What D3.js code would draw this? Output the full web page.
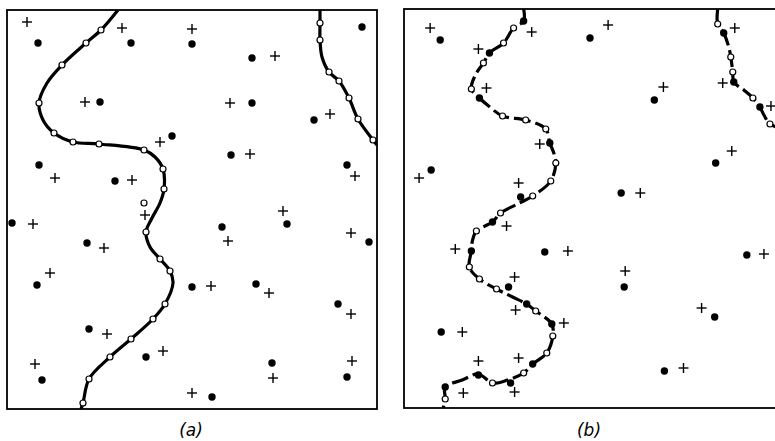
<!DOCTYPE html>
<html>
<head>
<meta charset="utf-8">
<script src="https://d3js.org/d3.v7.min.js"></script>
<style>
  body { margin: 0; background: #fff; }
  svg { display: block; }
</style>
</head>
<body>
<svg id="chart" width="775" height="441"></svg>
<script>
// panel labels
var labels = ["(a)", "(b)"];

// panel (a) - field coordinates, x right, y up
var plusA = [[20,387],[115,381],[185,380],[268,353],[78,307],[223,306],[323,295],[153,267],[243,255],
  [48,231],[125,229],[348,233],[276,198],[138,194],[26,185],[97,161],[221,168],[344,176],[43,136],
  [204,123],[262,116],[344,95],[100,75],[156,58],[28,45],[266,31],[345,48],[185,16]];
var dotA = [[31,366],[124,366],[185,365],[245,351],[355,382],[93,307],[245,306],[307,289],[165,273],
  [224,254],[32,244],[108,228],[340,244],[5,186],[80,166],[215,182],[280,185],[362,167],[30,124],
  [185,122],[249,125],[331,105],[82,80],[139,52],[265,46],[340,32],[35,29],[205,12]];
var ringA = [[94,379],[79,366],[55,344],[32,306],[47,276],[66,267],[92,265],[137,259],[156,240],
  [157,220],[139,177],[153,150],[163,138],[158,105],[146,90],[124,70],[103,52],[82,30],[76,6],[137,206],
  [313,386],[313,369],[322,337],[332,328],[342,311],[351,290],[366,269]];
var lineA1 = [[111,399],[94,379],[79,366],[55,344],[40,326],[32,306],[36,289],[47,276],[66,267],[92,265],
  [137,259],[148,252],[156,240],[157,220],[153,206],[145,191],[139,177],[143,162],[153,150],[163,138],
  [166,126],[158,105],[146,90],[124,70],[103,52],[82,30],[76,6],[74,0]];
var lineA2 = [[313,399],[313,386],[313,369],[315,352],[322,337],[332,328],[342,311],[351,290],[366,269],[370,264]];

// panel (b)
var plusB = [[26,380],[127,376],[203,383],[74,359],[329,380],[82,320],[258,321],[317,325],[365,302],
  [135,264],[326,257],[15,230],[114,225],[235,215],[102,182],[51,159],[163,157],[358,154],[220,137],
  [110,131],[111,98],[296,100],[159,85],[58,76],[74,47],[114,50],[278,40],[59,15],[110,16]];
var dotB = [[36,368],[185,370],[249,308],[310,245],[27,238],[216,215],[140,156],[341,153],[104,121],
  [219,121],[37,76],[309,91],[259,37],[106,25],
  [119,387],[85,355],[75,310],[145,265],[116,211],[88,186],[67,157],[122,104],[147,84],[128,44],
  [74,33],[41,21],[318,375],[328,326],[354,301]];
var ringB = [[109,380],[99,365],[79,345],[67,319],[98,292],[121,288],[141,279],[151,245],[146,227],
  [128,212],[96,195],[72,177],[65,141],[75,129],[92,119],[131,97],[148,72],[142,55],[119,35],[88,25],[41,9],
  [312,384],[325,351],[327,336],[347,310],[364,284]];
var lineB1 = [[119,399],[119,387],[109,380],[99,365],[85,355],[79,345],[71,333],[67,319],[75,310],[83,303],
  [98,292],[121,288],[141,279],[145,265],[149,255],[151,245],[146,227],[128,212],[113,204],[96,195],
  [88,186],[72,177],[68,167],[67,157],[65,141],[75,129],[92,119],[108,111],[122,104],[131,97],[147,84],
  [148,72],[142,55],[128,44],[119,35],[103,28],[88,25],[74,34],[58,28],[41,21],[41,9],[39,0]];
var lineB2 = [[312,399],[312,384],[318,375],[323,361],[325,351],[327,336],[328,326],[338,318],[347,310],
  [354,301],[358,293],[364,284],[374,280]];

var panels = [
  {label: labels[0], plus: plusA, dot: dotA, ring: ringA, lines: [lineA1, lineA2], xr: [7, 377], yr: [409, 10], dash: null},
  {label: labels[1], plus: plusB, dot: dotB, ring: ringB, lines: [lineB1, lineB2], xr: [404, 776], yr: [408, 9], dash: "17,5"}
];

var svg = d3.select("#chart");

panels.forEach(function(p, i) {
  var x = d3.scaleLinear().domain([0, 370]).range(p.xr);
  var y = d3.scaleLinear().domain([0, 399]).range(p.yr);
  var g = svg.append("g");

  g.append("clipPath").attr("id", "clip" + i)
    .append("rect")
    .attr("x", p.xr[0]).attr("y", p.yr[1])
    .attr("width", p.xr[1] - p.xr[0]).attr("height", p.yr[0] - p.yr[1]);

  var inner = g.append("g").attr("clip-path", "url(#clip" + i + ")");

  var line = d3.line()
    .x(function(d) { return x(d[0]); })
    .y(function(d) { return y(d[1]); })
    .curve(d3.curveCatmullRom.alpha(0.5));

  inner.selectAll("path.curve")
    .data(p.lines)
    .enter().append("path")
    .attr("class", "curve")
    .attr("d", line)
    .attr("fill", "none")
    .attr("stroke", "#000")
    .attr("stroke-width", 3.2)
    .attr("stroke-dasharray", p.dash);

  inner.selectAll("circle.dot")
    .data(p.dot)
    .enter().append("circle")
    .attr("cx", function(d) { return x(d[0]); })
    .attr("cy", function(d) { return y(d[1]); })
    .attr("r", 3.7)
    .attr("fill", "#000");

  inner.selectAll("circle.ring")
    .data(p.ring)
    .enter().append("circle")
    .attr("cx", function(d) { return x(d[0]); })
    .attr("cy", function(d) { return y(d[1]); })
    .attr("r", 3)
    .attr("fill", "#fff")
    .attr("stroke", "#000")
    .attr("stroke-width", 1.2);

  var plus = inner.selectAll("g.plus")
    .data(p.plus)
    .enter().append("g")
    .attr("transform", function(d) { return "translate(" + x(d[0]) + "," + y(d[1]) + ")"; });
  plus.append("line").attr("x1", -5).attr("x2", 5).attr("y1", 0).attr("y2", 0);
  plus.append("line").attr("x1", 0).attr("x2", 0).attr("y1", -5).attr("y2", 5);
  plus.selectAll("line").attr("stroke", "#000").attr("stroke-width", 1.4);

  // frame
  g.append("rect")
    .attr("x", p.xr[0]).attr("y", p.yr[1])
    .attr("width", p.xr[1] - p.xr[0]).attr("height", p.yr[0] - p.yr[1])
    .attr("fill", "none")
    .attr("stroke", "#000")
    .attr("stroke-width", 1.8);

  g.append("text")
    .attr("x", (p.xr[0] + p.xr[1]) / 2 - 1)
    .attr("y", 436)
    .attr("text-anchor", "middle")
    .style("font-family", "DejaVu Sans, sans-serif")
    .style("font-style", "italic")
    .style("font-size", "17px")
    .text(p.label);
});
</script>
</body>
</html>
